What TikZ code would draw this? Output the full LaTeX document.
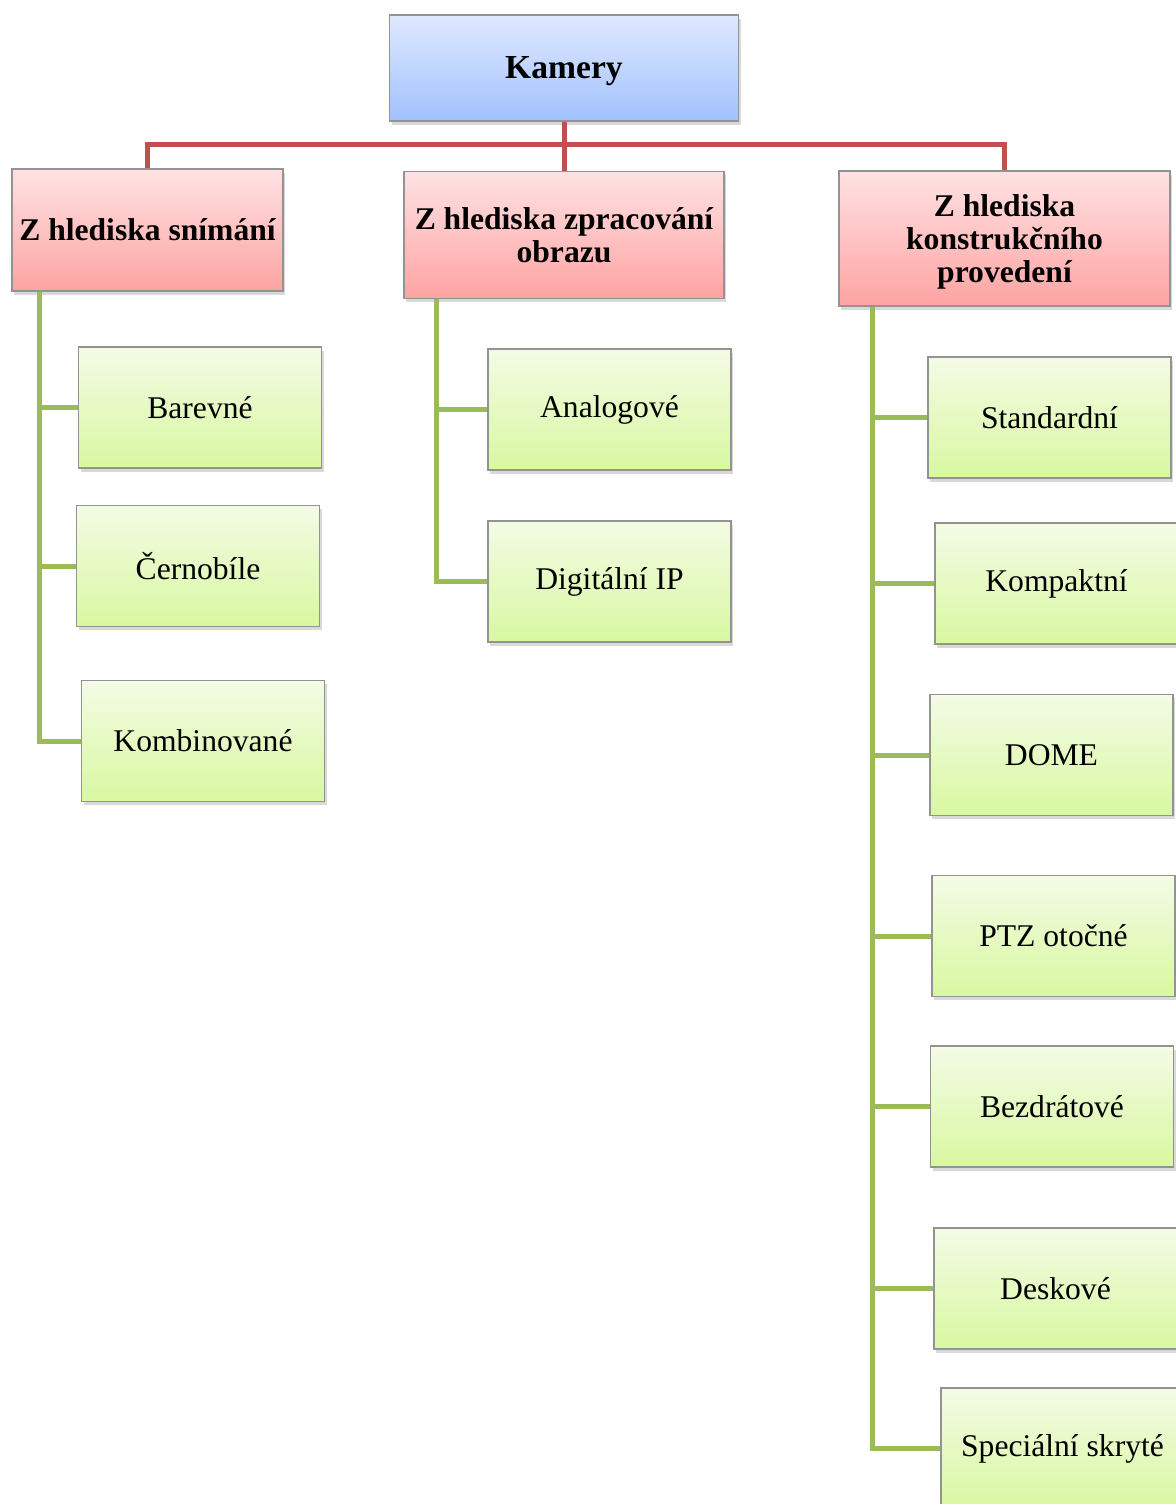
\documentclass[tikz,border=0pt]{standalone}
\usepackage{fontspec}
\setmainfont{Liberation Serif}
\usetikzlibrary{positioning, shadows}

\definecolor{kamtop}{HTML}{DFE9FF}
\definecolor{kambot}{HTML}{A2C1FE}
\definecolor{hledtop}{HTML}{FFE2E3}
\definecolor{hledbot}{HTML}{FEA3A3}
\definecolor{typtop}{HTML}{F4FBE6}
\definecolor{typbot}{HTML}{D8F8A0}
\definecolor{redconn}{HTML}{C0504D}
\definecolor{greenconn}{HTML}{9BBB59}

\begin{document}
\begin{tikzpicture}[
        x=0.5pt,
        y=-0.5pt,
        box/.style={
            draw=gray!85,
            line width=0.6pt,
            inner sep=2pt,
            align=center,
            font=\fontsize{15.8}{16.6}\selectfont,
            drop shadow={
                shadow xshift=1.2pt,
                shadow yshift=-1.8pt,
                opacity=0.3
            }
        },
        rootbox/.style={
            box,
            top color=kamtop,
            bottom color=kambot,
            minimum width=174.5pt,
            minimum height=53pt,
            text depth=0pt,
            font=\bfseries\fontsize{16.8}{17.4}\selectfont
        },
        hledbox/.style={
            box,
            top color=hledtop,
            bottom color=hledbot,
            font=\bfseries\fontsize{15.8}{16.6}\selectfont
        },
        typbox/.style={
            box,
            top color=typtop,
            bottom color=typbot,
            minimum width=121.5pt,
            minimum height=60.5pt
        },
        redline/.style={
            redconn,
            line width=2.5pt
        },
        greenline/.style={
            greenconn,
            line width=2.5pt
        }
    ]

    \useasboundingbox (0,0) rectangle (1176,1504);
    \clip (0,0) rectangle (1176,1504);

    % --------------------------------------------------------
    % Root and the three viewpoints
    % --------------------------------------------------------

    \node[
        rootbox
    ]
    (kamery)
    at (564,68) {Kamery};

    \node[
        hledbox,
        minimum width=135.5pt,
        minimum height=61pt
    ]
    (snimani)
    at (147.5,230) {Z hlediska snímání};

    \node[
        hledbox,
        minimum width=160pt,
        minimum height=63.5pt
    ]
    (zpracovani)
    at (564,235) {Z hlediska zpracování\\obrazu};

    \node[
        hledbox,
        minimum width=165.5pt,
        minimum height=67.5pt,
        text depth=0pt
    ]
    (konstrukce)
    at (1004.5,238.5) {Z hlediska\\konstrukčního\\provedení};

    % --------------------------------------------------------
    % Camera types
    % --------------------------------------------------------

    \node[typbox] (barevne) at (200,407.5) {Barevné};
    \node[typbox] (cernobile) at (198,566) {Černobíle};
    \node[typbox] (kombinovane) at (203,741) {Kombinované};

    \node[typbox] (analogove) at (609.5,409.5) {Analogové};
    \node[typbox] (digitalni) at (609.5,581.5) {Digitální IP};

    \node[typbox] (standardni) at (1049.5,417.5) {Standardní};
    \node[typbox] (kompaktni) at (1056.5,583.5) {Kompaktní};
    \node[typbox] (dome) at (1051.5,755) {DOME};
    \node[typbox] (ptz) at (1053.5,936) {PTZ otočné};
    \node[typbox] (bezdratove) at (1052,1106.5) {Bezdrátové};
    \node[typbox] (deskove) at (1055.5,1288.5) {Deskové};
    \node[typbox] (specialni) at (1062.5,1448.5) {Speciální skryté};

    % --------------------------------------------------------
    % Red connectors
    % --------------------------------------------------------

    \coordinate (bus) at (kamery.south |- 0,145);

    \draw[redline] (kamery.south) -- (bus);

    \foreach \h in {snimani,zpracovani,konstrukce} {
        \draw[redline] (bus) -| (\h.north);
    }

    % --------------------------------------------------------
    % Green connectors
    % --------------------------------------------------------

    \foreach \t in {barevne,cernobile,kombinovane} {
        \draw[greenline] (snimani.south west) ++(28,0) |- (\t.west);
    }

    \foreach \t in {analogove,digitalni} {
        \draw[greenline] (zpracovani.south west) ++(33,0) |- (\t.west);
    }

    \foreach \t in {standardni,kompaktni,dome,ptz,bezdratove,deskove,specialni} {
        \draw[greenline] (konstrukce.south west) ++(34,0) |- (\t.west);
    }

\end{tikzpicture}
\end{document}
